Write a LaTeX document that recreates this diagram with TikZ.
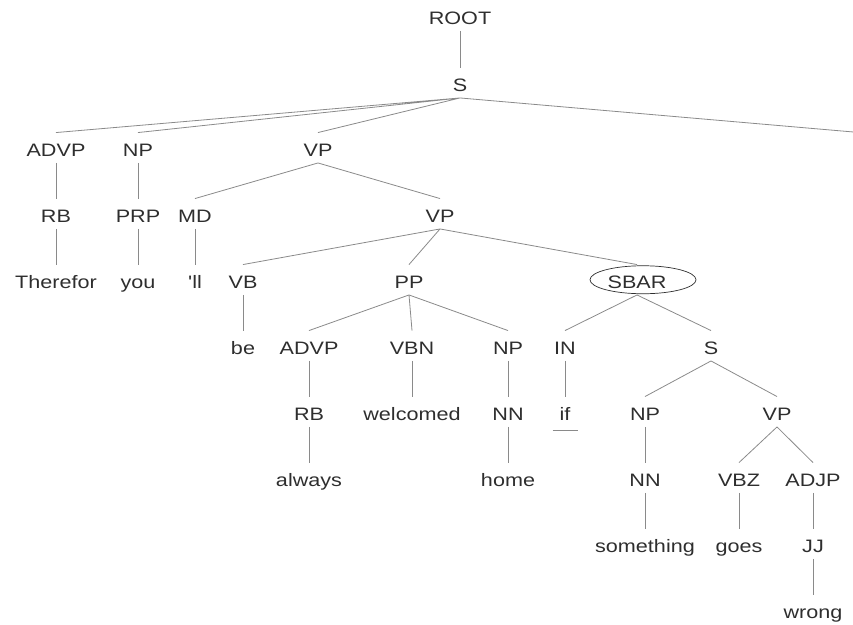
\documentclass[tikz,border=0pt]{standalone}
\usepackage{fontspec}
\newfontfamily\tagfont[FakeStretch=1.2]{Liberation Sans}
\definecolor{labelgray}{HTML}{2E2E2E}
\definecolor{linegray}{HTML}{8A8A8A}

\begin{document}
\begin{tikzpicture}[x=1pt, y=-1pt,
    tag/.style={anchor=base, inner xsep=0pt, inner ysep=2pt,
        text height=21.25pt, text depth=4.75pt, text=labelgray,
        font=\tagfont\fontsize{18}{20}\selectfont},
    branch/.style={draw=linegray, line width=0.8pt}]
    \useasboundingbox (0,0) rectangle (853,624);

    \node[tag] (root) at (460,24) {ROOT};
    \node[tag] (s) at (460,91) {S};

    \node[tag] (advp) at (56,156) {ADVP};
    \node[tag] (np) at (138,156) {NP};
    \node[tag] (vp) at (318,156) {VP};
    \coordinate (punct) at (865,133);

    \node[tag] (rb) at (56,222) {RB};
    \node[tag] (prp) at (138,222) {PRP};
    \node[tag] (md) at (195,222) {MD};
    \node[tag] (vpb) at (440,222) {VP};

    \node[tag] (therefor) at (56,288) {Therefor};
    \node[tag] (you) at (138,288) {you};
    \node[tag] (ll) at (195,288) {'ll};
    \node[tag] (vb) at (243,288) {VB};
    \node[tag] (pp) at (409,288) {PP};
    \node[tag] (sbar) at (637,288) {SBAR};

    \node[tag] (be) at (243,354) {be};
    \node[tag] (advpb) at (309,354) {ADVP};
    \node[tag] (vbn) at (412,354) {VBN};
    \node[tag] (npb) at (508,354) {NP};
    \node[tag] (in) at (565,354) {IN};
    \node[tag] (sb) at (711,354) {S};

    \node[tag] (rbb) at (309,420) {RB};
    \node[tag] (welcomed) at (412,420) {welcomed};
    \node[tag] (nn) at (508,420) {NN};
    \node[tag] (if) at (565,420) {if};
    \node[tag] (npc) at (645,420) {NP};
    \node[tag] (vpc) at (777,420) {VP};

    \node[tag] (always) at (309,486) {always};
    \node[tag] (home) at (508,486) {home};
    \node[tag] (nnb) at (645,486) {NN};
    \node[tag] (vbz) at (739,486) {VBZ};
    \node[tag] (adjp) at (813,486) {ADJP};

    \node[tag] (something) at (645,552) {something};
    \node[tag] (goes) at (739,552) {goes};
    \node[tag] (jj) at (813,552) {JJ};

    \node[tag] (wrong) at (813,618) {wrong};

    \draw[draw=labelgray, line width=0.7pt] ([xshift=6pt]sbar.center) ellipse [x radius=53, y radius=14];
    \draw[branch] ([xshift=-12.5pt,yshift=-3pt]if.south) -- ([xshift=12.5pt,yshift=-3pt]if.south);

    \draw[branch] (root.south) -- (s.north);
    \draw[branch] (s.south) -- (advp.north) (s.south) -- (np.north)
        (s.south) -- (vp.north) (s.south) -- (punct);
    \draw[branch] (advp.south) -- (rb.north);
    \draw[branch] (np.south) -- (prp.north);
    \draw[branch] (vp.south) -- (md.north) (vp.south) -- (vpb.north);
    \draw[branch] (rb.south) -- (therefor.north);
    \draw[branch] (prp.south) -- (you.north);
    \draw[branch] (md.south) -- (ll.north);
    \draw[branch] (vpb.south) -- (vb.north) (vpb.south) -- (pp.north)
        (vpb.south) -- (sbar.north);
    \draw[branch] (vb.south) -- (be.north);
    \draw[branch] (pp.south) -- (advpb.north) (pp.south) -- (vbn.north)
        (pp.south) -- (npb.north);
    \draw[branch] (sbar.south) -- (in.north) (sbar.south) -- (sb.north);
    \draw[branch] (advpb.south) -- (rbb.north);
    \draw[branch] (vbn.south) -- (welcomed.north);
    \draw[branch] (npb.south) -- (nn.north);
    \draw[branch] (in.south) -- (if.north);
    \draw[branch] (sb.south) -- (npc.north) (sb.south) -- (vpc.north);
    \draw[branch] (rbb.south) -- (always.north);
    \draw[branch] (nn.south) -- (home.north);
    \draw[branch] (npc.south) -- (nnb.north);
    \draw[branch] (vpc.south) -- (vbz.north) (vpc.south) -- (adjp.north);
    \draw[branch] (nnb.south) -- (something.north);
    \draw[branch] (vbz.south) -- (goes.north);
    \draw[branch] (adjp.south) -- (jj.north);
    \draw[branch] (jj.south) -- (wrong.north);
\end{tikzpicture}
\end{document}
